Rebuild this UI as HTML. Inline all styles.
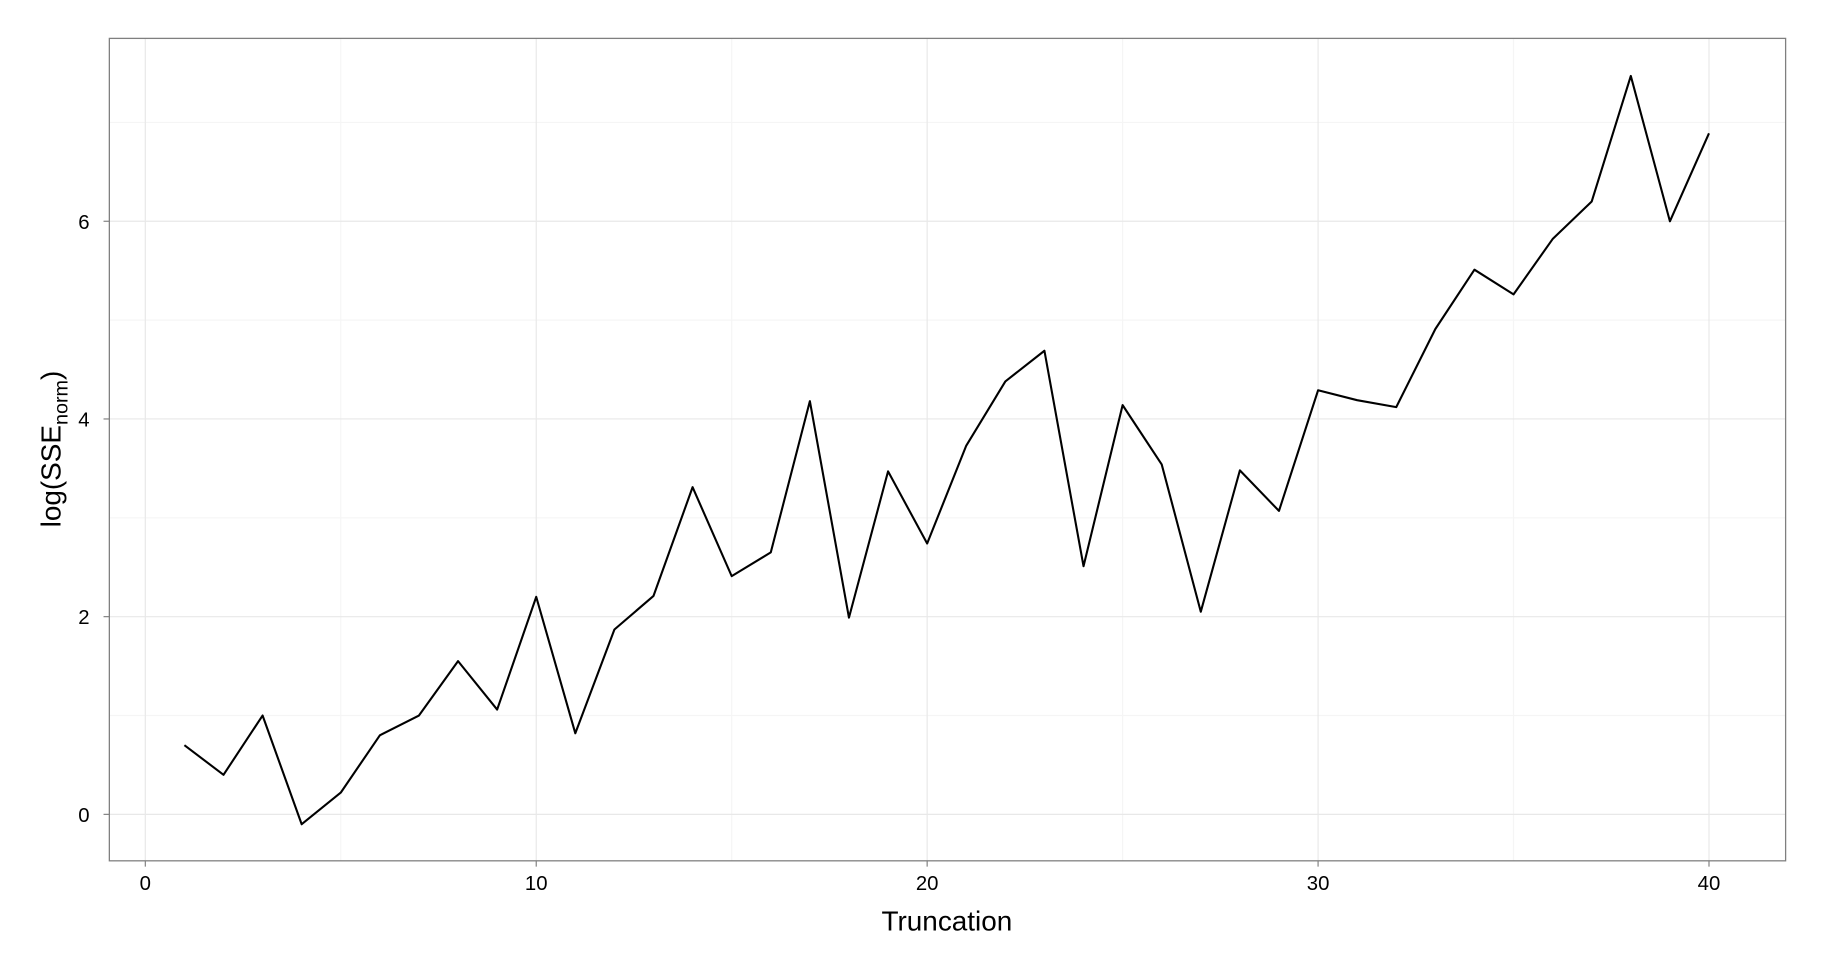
<!DOCTYPE html>
<html><head><meta charset="utf-8"><style>
html,body{margin:0;padding:0;background:#fff;}
svg{display:block;font-family:"Liberation Sans",Arial,sans-serif;}
</style></head><body>
<svg id="chart" width="1824" height="960" viewBox="0 0 1568 825.26" xmlns="http://www.w3.org/2000/svg">
<rect x="0" y="0" width="1568" height="826" fill="#fff"/>
<g id="grid"></g>
<g id="plot"></g>
<rect x="94" y="33" width="1441" height="707" fill="none" stroke="#7f7f7f" stroke-width="1.1"/>
<g id="axes"></g>
<text x="814" y="800" text-anchor="middle" font-size="24" fill="#000">Truncation</text>
<text transform="translate(52,386) rotate(-90)" text-anchor="middle" font-size="24" fill="#000">log(SSE<tspan font-size="17" dy="6">norm</tspan><tspan dy="-6">)</tspan></text>
</svg>
<script>
const truncation = [1,2,3,4,5,6,7,8,9,10,11,12,13,14,15,16,17,18,19,20,21,22,23,24,25,26,27,28,29,30,31,32,33,34,35,36,37,38,39,40];
const logSSE = [0.70,0.40,1.00,-0.10,0.22,0.80,1.00,1.55,1.06,2.20,0.82,1.87,2.21,3.31,2.41,2.65,4.18,1.99,3.47,2.74,3.73,4.38,4.69,2.51,4.14,3.54,2.05,3.48,3.07,4.29,4.19,4.12,4.91,5.51,5.26,5.82,6.20,7.47,6.00,6.89];
const xTicks = [0,10,20,30,40];
const yTicks = [0,2,4,6];
const xMinor = [5,15,25,35];
const yMinor = [1,3,5,7];
const NS="http://www.w3.org/2000/svg";
const px0=94, px1=1535, py0=33, py1=740;
const xDom=[-0.92,41.96], yDom=[-0.47,7.85];
const sx=v=>px0+(v-xDom[0])/(xDom[1]-xDom[0])*(px1-px0);
const sy=v=>py1-(v-yDom[0])/(yDom[1]-yDom[0])*(py1-py0);
function mk(tag,attrs,parent){const e=document.createElementNS(NS,tag);for(const k in attrs)e.setAttribute(k,attrs[k]);parent.appendChild(e);return e;}
const grid=document.getElementById('grid'), plot=document.getElementById('plot'), axes=document.getElementById('axes');
mk('rect',{x:px0,y:py0,width:px1-px0,height:py1-py0,fill:'#fff'},grid);
xMinor.forEach(v=>{const l=mk('line',{x1:sx(v),x2:sx(v),y1:py0,y2:py1,stroke:'#f5f5f5','stroke-width':1},grid);

});
yMinor.forEach(v=>{const l=mk('line',{x1:px0,x2:px1,y1:sy(v),y2:sy(v),stroke:'#f5f5f5','stroke-width':1},grid);

});
xTicks.forEach(v=>{const l=mk('line',{x1:sx(v),x2:sx(v),y1:py0,y2:py1,stroke:'#e8e8e8','stroke-width':1},grid);


const t=mk('line',{x1:sx(v),x2:sx(v),y1:py1,y2:py1+5,stroke:'#7f7f7f','stroke-width':1},axes);


const tx=mk('text',{x:sx(v),y:py1+25,'text-anchor':'middle','font-size':17.5,fill:'#000'},axes);
tx.textContent=v;

});
yTicks.forEach(v=>{const l=mk('line',{x1:px0,x2:px1,y1:sy(v),y2:sy(v),stroke:'#e8e8e8','stroke-width':1},grid);


const t=mk('line',{x1:px0-5,x2:px0,y1:sy(v),y2:sy(v),stroke:'#7f7f7f','stroke-width':1},axes);


const tx=mk('text',{x:px0-17,y:sy(v)+6.5,'text-anchor':'end','font-size':17.5,fill:'#000'},axes);
tx.textContent=v;

});
const d=truncation.map((x,i)=>(i?'L':'M')+sx(x).toFixed(2)+','+sy(logSSE[i]).toFixed(2)).join(' ');
const p=mk('path',{d:d,fill:'none',stroke:'#000','stroke-width':1.8,'stroke-linejoin':'round'},plot);


</script>
</body></html>
